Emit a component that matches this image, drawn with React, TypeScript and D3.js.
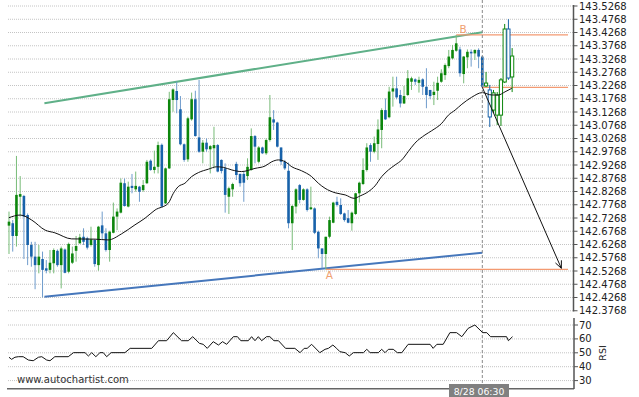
import * as d3 from 'd3';

// candles (index 0 = leftmost bar)
const openP = [
  142.698, 142.707, 142.659, 142.807, 142.810, 142.738, 142.625, 142.581, 142.549, 142.572,
  142.537, 142.531, 142.556, 142.603, 142.549, 142.608, 142.524, 142.558, 142.603, 142.631,
  142.656, 142.650, 142.625, 142.644, 142.549, 142.699, 142.669, 142.606, 142.671, 142.732,
  142.747, 142.858, 142.770, 142.848, 142.835, 142.845, 142.832, 142.858, 142.943, 142.908,
  142.920, 143.003, 142.782, 142.914, 143.172, 143.206, 143.137, 143.005, 142.948, 143.099,
  143.175, 143.031, 142.977, 143.011, 142.986, 142.990, 143.002, 142.946, 142.914, 142.807,
  142.835, 142.931, 142.893, 142.893, 142.885, 142.908, 143.036, 142.939, 142.993, 142.971,
  143.021, 143.099, 143.087, 142.993, 142.939, 142.905, 142.707, 142.770, 142.851, 142.795,
  142.835, 142.760, 142.763, 142.675, 142.612, 142.591, 142.656, 142.709, 142.788, 142.776,
  142.744, 142.726, 142.707, 142.742, 142.820, 142.855, 142.908, 143.002, 142.977, 143.006,
  143.059, 143.134, 143.107, 143.204, 143.216, 143.191, 143.159, 143.191, 143.241, 143.250,
  143.237, 143.250, 143.222, 143.210, 143.191, 143.207, 143.241, 143.266, 143.300, 143.329,
  143.358, 143.363, 143.270, 143.333, 143.354, 143.348, 143.361, 143.336, 143.225, 143.210,
  143.134, 143.115, 143.115, 143.240, 143.440, 143.259,
];
const highP = [
  142.751, 142.719, 142.961, 142.885, 142.814, 142.744, 142.637, 142.637, 142.625, 142.600,
  142.568, 142.606, 142.612, 142.608, 142.619, 142.612, 142.634, 142.619, 142.659, 142.667,
  142.688, 142.656, 142.694, 142.646, 142.697, 142.751, 142.688, 142.679, 142.785, 142.763,
  142.876, 142.876, 142.864, 142.893, 142.902, 142.848, 142.870, 142.946, 142.948, 142.981,
  143.015, 143.008, 142.917, 143.203, 143.216, 143.241, 143.187, 143.008, 143.109, 143.200,
  143.207, 143.248, 143.021, 143.027, 143.002, 143.071, 143.006, 142.948, 142.933, 142.845,
  142.860, 142.939, 142.895, 142.902, 142.952, 143.065, 143.040, 142.998, 142.996, 143.027,
  143.191, 143.134, 143.090, 142.993, 142.946, 142.936, 142.776, 142.839, 142.855, 142.839,
  142.839, 142.845, 142.767, 142.679, 142.612, 142.656, 142.732, 142.788, 142.807, 142.801,
  142.747, 142.757, 142.751, 142.822, 142.864, 142.952, 143.009, 143.009, 143.034, 143.099,
  143.141, 143.178, 143.222, 143.260, 143.260, 143.210, 143.225, 143.285, 143.260, 143.254,
  143.260, 143.254, 143.292, 143.210, 143.241, 143.260, 143.288, 143.310, 143.361, 143.380,
  143.417, 143.373, 143.338, 143.363, 143.363, 143.363, 143.367, 143.338, 143.278, 143.229,
  143.210, 143.202, 143.255, 143.459, 143.477, 143.368,
];
const lowP = [
  142.591, 142.600, 142.619, 142.732, 142.572, 142.549, 142.543, 142.458, 142.518, 142.427,
  142.518, 142.518, 142.518, 142.543, 142.461, 142.518, 142.518, 142.553, 142.562, 142.631,
  142.625, 142.608, 142.619, 142.543, 142.528, 142.644, 142.600, 142.562, 142.669, 142.681,
  142.744, 142.770, 142.767, 142.820, 142.826, 142.788, 142.826, 142.855, 142.905, 142.895,
  142.895, 142.767, 142.780, 142.912, 143.128, 143.122, 143.001, 142.939, 142.939, 143.094,
  143.034, 142.973, 142.933, 142.977, 142.895, 142.914, 142.899, 142.895, 142.747, 142.742,
  142.807, 142.870, 142.845, 142.788, 142.870, 142.905, 142.933, 142.933, 142.968, 142.965,
  143.015, 143.059, 142.993, 142.927, 142.908, 142.688, 142.606, 142.744, 142.782, 142.792,
  142.751, 142.757, 142.666, 142.575, 142.537, 142.533, 142.650, 142.707, 142.770, 142.738,
  142.713, 142.707, 142.679, 142.738, 142.785, 142.851, 142.902, 142.939, 142.971, 142.946,
  142.990, 143.097, 143.103, 143.147, 143.175, 143.144, 143.157, 143.187, 143.210, 143.229,
  143.200, 143.191, 143.141, 143.175, 143.153, 143.172, 143.237, 143.248, 143.292, 143.325,
  143.354, 143.260, 143.235, 143.292, 143.298, 143.323, 143.292, 143.220, 143.221, 143.070,
  143.123, 143.078, 143.074, 143.236, 143.248, 143.202,
];
const closeP = [
  142.713, 142.659, 142.814, 142.817, 142.732, 142.625, 142.581, 142.549, 142.581, 142.531,
  142.528, 142.558, 142.606, 142.549, 142.612, 142.520, 142.629, 142.593, 142.621, 142.654,
  142.637, 142.615, 142.646, 142.553, 142.694, 142.669, 142.606, 142.675, 142.732, 142.751,
  142.860, 142.772, 142.845, 142.840, 142.848, 142.826, 142.851, 142.939, 142.908, 142.920,
  143.002, 142.770, 142.914, 143.175, 143.212, 143.172, 143.005, 142.946, 143.103, 143.175,
  143.036, 142.977, 143.011, 142.986, 142.998, 143.002, 142.902, 142.904, 142.814, 142.839,
  142.855, 142.889, 142.858, 142.860, 142.920, 143.036, 142.996, 142.993, 142.971, 143.021,
  143.107, 143.087, 142.996, 142.939, 142.914, 142.707, 142.772, 142.835, 142.795, 142.835,
  142.757, 142.767, 142.671, 142.612, 142.591, 142.656, 142.719, 142.785, 142.776, 142.742,
  142.719, 142.709, 142.747, 142.820, 142.860, 142.908, 142.993, 142.977, 143.009, 143.061,
  143.134, 143.099, 143.204, 143.216, 143.182, 143.159, 143.187, 143.254, 143.254, 143.241,
  143.248, 143.222, 143.191, 143.187, 143.203, 143.237, 143.273, 143.304, 143.336, 143.361,
  143.386, 143.273, 143.336, 143.354, 143.348, 143.361, 143.336, 143.222, 143.236, 143.108,
  143.199, 143.191, 143.248, 143.440, 143.255, 143.338,
];

// moving average, sampled along the curve (bar index, price)
const maIdx = [0, 3, 6.1, 9.7, 12.3, 16.8, 23.1, 26.6, 30.2, 33.8, 36.5, 39.2, 42.7, 44.1, 45.4, 47.2, 49, 50.8, 53.5, 55.7, 57.5, 59.8, 62.4, 66, 68.7, 70.5, 72.3, 74.1, 75.9, 78.5, 81.2, 83, 84.8, 87.5, 90.2, 92.6, 94.2, 96.4, 98.2, 100, 101.8, 103.6, 105.4, 107.1, 108.9, 111.6, 113.4, 116.1, 117.9, 119.7, 121.5, 124.1, 127, 129.5, 131.3, 133.1, 134.9];
const maVal = [142.728, 142.738, 142.719, 142.681, 142.671, 142.648, 142.647, 142.644, 142.667, 142.701, 142.726, 142.757, 142.782, 142.82, 142.845, 142.858, 142.883, 142.898, 142.911, 142.92, 142.918, 142.908, 142.902, 142.914, 142.923, 142.939, 142.946, 142.939, 142.92, 142.905, 142.883, 142.858, 142.839, 142.822, 142.814, 142.801, 142.81, 142.826, 142.848, 142.883, 142.908, 142.927, 142.946, 142.977, 143.009, 143.04, 143.056, 143.084, 143.115, 143.134, 143.156, 143.182, 143.2, 143.191, 143.191, 143.203, 143.216];

// RSI (bar index, value)
const rsiIdx = [0, 0.7, 1.6, 2.5, 3.8, 5.2, 6.5, 7.9, 8.8, 10.1, 11, 12.3, 15.9, 17.3, 20.4, 21.3, 22.2, 23.3, 24.4, 25.3, 26.2, 27.4, 31.1, 32.5, 38.3, 40.1, 42.3, 44.1, 46.3, 48.1, 49.3, 51.1, 52.1, 53.2, 54.8, 56.2, 57.3, 58.4, 60.2, 61.3, 62.2, 64.2, 65.1, 66, 66.9, 67.8, 69.1, 70, 71.1, 72.3, 74.2, 76.7, 78.1, 79.2, 80, 81.2, 83.4, 84.8, 85.7, 86.9, 87.9, 88.8, 90.2, 91.3, 92.4, 95.1, 96, 96.9, 99.1, 100, 100.9, 101.8, 103.1, 104.2, 105.4, 107.1, 113, 113.8, 114.8, 116.5, 118.3, 120.1, 121.5, 123.2, 125, 127.1, 128.2, 129.2, 133.5, 134, 135.1];
const rsiVal = [46.8, 45.3, 46.8, 47.2, 47.2, 44.8, 44.3, 46.8, 47.2, 44.8, 44.3, 47.2, 47.2, 50.1, 50.1, 47.7, 50.1, 47.2, 50.1, 50.1, 47.2, 50.1, 50.1, 53.2, 53.2, 58.7, 58.7, 64.5, 58.7, 58.7, 61.6, 56.8, 56.1, 53.2, 58, 55.6, 58, 56.1, 61.6, 61.6, 58.7, 58.7, 61.6, 58.7, 61.6, 58.7, 61.6, 61.6, 58.7, 58.7, 53.2, 53.2, 50.1, 53.2, 53.2, 56.1, 50.1, 52.5, 53.2, 55.6, 53.2, 50.8, 50.1, 47.7, 50.1, 50.1, 52.5, 50.1, 50.1, 52.5, 50.1, 52.5, 52.5, 50.1, 50.1, 56.1, 56.1, 53.2, 56.1, 56.1, 64.5, 64.5, 61.6, 67.6, 70, 64.5, 64.5, 61.6, 61.6, 58.7, 61.6];

const priceTicks = ['143.5268', '143.4768', '143.4268', '143.3768', '143.3268', '143.2768', '143.2268', '143.1768', '143.1268', '143.0768', '143.0268', '142.9768', '142.9268', '142.8768', '142.8268', '142.7768', '142.7268', '142.6768', '142.6268', '142.5768', '142.5268', '142.4768', '142.4268', '142.3768'];
const rsiTicks = [70, 60, 50, 40, 30];
const timeLabel = '8/28 06:30';

// pattern: channel lines, A/B points, breakout and target
const patternEnd = 127;
const upperIdx = [9.5, 127];
const upperVal = [143.16, 143.428];
const lowerIdx = [9.5, 127];
const lowerVal = [142.43, 142.596];
const pointA = { idx: 85, price: 142.533 };
const pointB = { idx: 120, price: 143.418 };
const breakLevel = 143.22;
const lineEndIdx = 150;
const targetIdx = 148.2;
const targetPrice = 142.537;

const FONT = 'DejaVu Sans, sans-serif';

export default function App() {
  const W = 639;
  const H = 397;
  const left = 8;
  const axisX = 573.5;

  const x = d3.scaleLinear().domain([-0.268, 151.33]).range([left, 573]);
  const y = d3.scaleLinear().domain([142.3768, 143.5268]).range([310.75, 6]);
  const ry = d3.scaleLinear().domain([30, 70]).range([380.6, 325]);

  const maLine = d3
    .line<number>()
    .x((d) => x(d))
    .y((_d, i) => y(maVal[i]))
    .curve(d3.curveMonotoneX);

  const rsiLine = d3
    .line<number>()
    .x((d) => x(d))
    .y((_d, i) => ry(rsiVal[i]));

  // arrow to target
  const sx = x(patternEnd);
  const sy = y(breakLevel);
  const tx = x(targetIdx);
  const ty = y(targetPrice);
  const ang = Math.atan2(ty - sy, tx - sx);
  const head = 8;
  const h1 = [tx - head * Math.cos(ang - 0.42), ty - head * Math.sin(ang - 0.42)];
  const h2 = [tx - head * Math.cos(ang + 0.42), ty - head * Math.sin(ang + 0.42)];

  const orange = '#f39a72';

  return (
    <svg
      width={W}
      height={H}
      style={{ position: 'absolute', left: 0, top: 0, background: '#fff' }}
      fontFamily={FONT}
    >
      {/* price grid */}
      {priceTicks.map((t) => (
        <line
          key={t}
          x1={left}
          x2={axisX}
          y1={y(+t)}
          y2={y(+t)}
          stroke="#c4c4c4"
          strokeDasharray="1,1"
        />
      ))}
      {/* rsi grid */}
      {rsiTicks.map((t) => (
        <line
          key={t}
          x1={left}
          x2={axisX}
          y1={ry(t)}
          y2={ry(t)}
          stroke="#c4c4c4"
          strokeDasharray="1,1"
        />
      ))}

      {/* channel */}
      <line
        x1={x(upperIdx[0])}
        y1={y(upperVal[0])}
        x2={x(upperIdx[1])}
        y2={y(upperVal[1])}
        stroke="#5fb088"
        strokeWidth={2}
      />
      <line
        x1={x(lowerIdx[0])}
        y1={y(lowerVal[0])}
        x2={x(lowerIdx[1])}
        y2={y(lowerVal[1])}
        stroke="#4677bb"
        strokeWidth={2}
      />

      {/* levels */}
      <line x1={x(pointA.idx)} x2={x(lineEndIdx)} y1={y(pointA.price)} y2={y(pointA.price)} stroke={orange} strokeWidth={1.3} />
      <line x1={x(pointB.idx)} x2={x(lineEndIdx)} y1={y(pointB.price)} y2={y(pointB.price)} stroke={orange} strokeWidth={1.3} />
      <line x1={x(patternEnd)} x2={x(lineEndIdx)} y1={y(breakLevel)} y2={y(breakLevel)} stroke={orange} strokeWidth={1.3} />

      {/* candles */}
      {openP.map((o, i) => {
        const c = closeP[i];
        const up = c >= o;
        const hollow = i > patternEnd;
        const col = up ? '#0c860c' : '#1862aa';
        const wick = up ? '#78bb78' : '#6f9ccc';
        const cx = x(i);
        const top = y(Math.max(o, c));
        const bot = y(Math.min(o, c));
        return (
          <g key={i}>
            <line x1={cx} x2={cx} y1={y(highP[i])} y2={y(lowP[i])} stroke={hollow ? col : wick} strokeWidth={1} />
            {hollow ? (
              <rect x={cx - 1.6} y={top} width={3.2} height={Math.max(bot - top, 1)} fill="#fff" stroke={col} strokeWidth={1} />
            ) : (
              <rect x={cx - 1.3} y={top} width={2.6} height={Math.max(bot - top, 1)} fill={col} />
            )}
          </g>
        );
      })}

      {/* moving average */}
      <path d={maLine(maIdx) ?? ''} fill="none" stroke="#111" strokeWidth={1} />

      {/* A / B labels */}
      <text x={x(pointA.idx) + 3.5} y={y(pointA.price) + 10} fontSize={10.5} fill="#f0a070" textAnchor="middle">
        A
      </text>
      <text x={x(pointB.idx) + 7} y={y(pointB.price) - 1.5} fontSize={10.5} fill="#f0a070" textAnchor="middle">
        B
      </text>

      {/* time marker */}
      <line x1={sx} x2={sx} y1={0} y2={384} stroke="#8a8a8a" strokeDasharray="3,2" />

      {/* target arrow */}
      <line x1={sx} y1={sy} x2={tx} y2={ty} stroke="#111" strokeWidth={1} />
      <polyline points={`${h1[0]},${h1[1]} ${tx},${ty} ${h2[0]},${h2[1]}`} fill="none" stroke="#111" strokeWidth={1} />

      {/* price axis */}
      <line x1={axisX} x2={axisX} y1={5} y2={311.5} stroke="#555" strokeWidth={1.5} />
      {priceTicks.map((t) => (
        <g key={t} transform={`translate(${axisX},${y(+t)})`}>
          <line x1={0} x2={4} stroke="#555" />
          <text x={5.5} dy="0.35em" fontSize={10} fill="#222">
            {t}
          </text>
        </g>
      ))}

      {/* rsi panel */}
      <path d={rsiLine(rsiIdx) ?? ''} fill="none" stroke="#111" strokeWidth={1} />
      <line x1={7} x2={axisX + 0.5} y1={388.7} y2={388.7} stroke="#666" strokeWidth={1.5} />
      <line x1={axisX + 0.5} x2={axisX + 0.5} y1={318} y2={389} stroke="#555" strokeWidth={1.5} />
      {rsiTicks.map((t) => (
        <g key={t} transform={`translate(${axisX + 0.5},${ry(t)})`}>
          <line x1={0} x2={4} stroke="#555" />
          <text x={5} dy="0.35em" fontSize={10} fill="#222">
            {t}
          </text>
        </g>
      ))}
      <text transform="translate(606,353) rotate(-90)" fontSize={9.5} fill="#222" textAnchor="middle">
        RSI
      </text>

      <text x={17} y={382.5} fontSize={10} fill="#333">
        www.autochartist.com
      </text>

      <rect x={449} y={384} width={60} height={13} fill="#808080" />
      <text x={479} y={394.5} fontSize={9.3} fill="#fff" textAnchor="middle">
        {timeLabel}
      </text>
    </svg>
  );
}
